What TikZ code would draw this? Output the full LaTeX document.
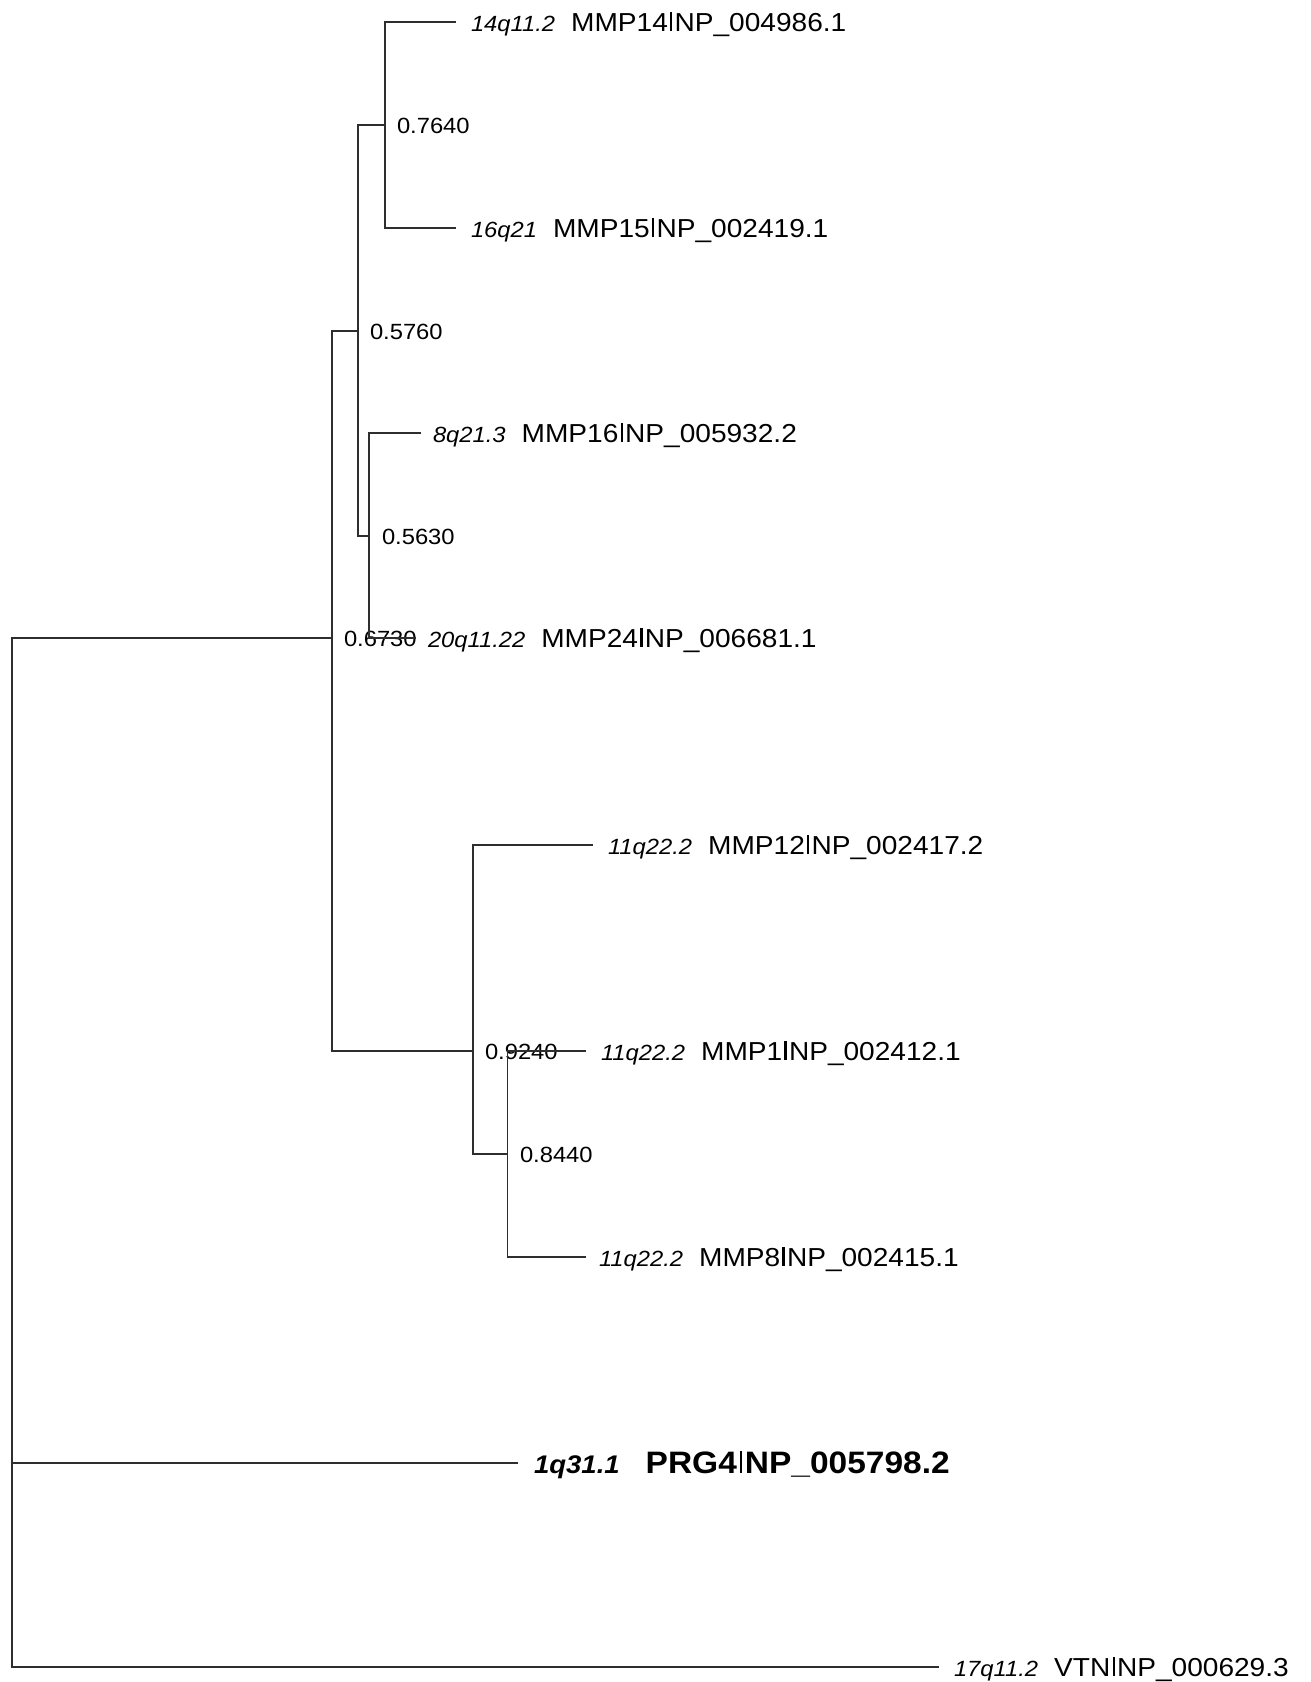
\documentclass[tikz,border=0pt]{standalone}
\usepackage{fontspec}
\setmainfont{Liberation Sans}[FakeStretch=1.08]
\newcommand\vbarglyph{\hspace{0.085em}\rule{0.09em}{0.716em}\hspace{0.085em}}
\newcommand\leaflab[2]{{\fontsize{22pt}{24pt}\selectfont\itshape #1}\hspace{16pt}{\fontsize{26pt}{30pt}\selectfont #2}}
\newcommand\boldlab[2]{{\fontsize{25.5pt}{30pt}\selectfont\bfseries\itshape #1}\hspace{26pt}{\fontsize{31pt}{34pt}\selectfont\bfseries #2}}
\tikzset{
  branch/.style={draw=black!82, line width=1.2pt, line cap=rect},
  lab/.style={anchor=base west, inner sep=0pt, outer sep=0pt},
  boot/.style={anchor=base west, inner sep=0pt, outer sep=0pt, font=\fontsize{22pt}{24pt}\selectfont}
}
\begin{document}
\begin{tikzpicture}[x=1pt,y=-1pt]
\useasboundingbox (0,0) rectangle (1310,1682);
\fill[white] (0,0) rectangle (1310,1682);
% internal nodes
\coordinate (root) at (12,1150);
\coordinate (n6730) at (332,638);
\coordinate (n5760) at (358,331);
\coordinate (n7640) at (385,125);
\coordinate (n5630) at (369,536);
\coordinate (n9240) at (473,1051);
\coordinate (n8440) at (507.5,1154);
% leaf tips
\coordinate (tMMP14) at (455,22);
\coordinate (tMMP15) at (455,228);
\coordinate (tMMP16) at (420,433);
\coordinate (tMMP24) at (415,638);
\coordinate (tMMP12) at (592,845);
\coordinate (tMMP1) at (585,1051);
\coordinate (tMMP8) at (585,1257);
\coordinate (tPRG4) at (517,1463);
\coordinate (tVTN) at (938,1667);
% leaf labels
\node[lab] (lMMP14) at (471,31) {\leaflab{14q11.2}{MMP14\vbarglyph NP\_004986.1}};
\node[lab] (lMMP15) at (471,237) {\leaflab{16q21}{MMP15\vbarglyph NP\_002419.1}};
\node[lab] (lMMP16) at (433,442) {\leaflab{8q21.3}{MMP16\vbarglyph NP\_005932.2}};
\node[lab] (lMMP24) at (428,647) {\leaflab{20q11.22}{MMP24\vbarglyph NP\_006681.1}};
\node[lab] (lMMP12) at (608,854) {\leaflab{11q22.2}{MMP12\vbarglyph NP\_002417.2}};
\node[lab] (lMMP1) at (601,1060) {\leaflab{11q22.2}{MMP1\vbarglyph NP\_002412.1}};
\node[lab] (lMMP8) at (599,1266) {\leaflab{11q22.2}{MMP8\vbarglyph NP\_002415.1}};
\node[lab] (lPRG4) at (534,1473) {\boldlab{1q31.1}{PRG4\vbarglyph NP\_005798.2}};
\node[lab] (lVTN) at (954,1676) {\leaflab{17q11.2}{VTN\vbarglyph NP\_000629.3}};
% bootstrap labels
\node[boot] (b7640) at (397,133) {0.7640};
\node[boot] (b5760) at (370,339) {0.5760};
\node[boot] (b5630) at (382,544) {0.5630};
\node[boot] (b6730) at (344,646) {0.6730};
\node[boot] (b9240) at (485,1059) {0.9240};
\node[boot] (b8440) at (520,1162) {0.8440};
% branches
\draw[branch] (root) |- (n6730);
\draw[branch] (root) |- (tPRG4);
\draw[branch] (root) |- (tVTN);
\draw[branch] (n6730) |- (n5760);
\draw[branch] (n6730) |- (n9240);
\draw[branch] (n5760) |- (n7640);
\draw[branch] (n5760) |- (n5630);
\draw[branch] (n7640) |- (tMMP14);
\draw[branch] (n7640) |- (tMMP15);
\draw[branch] (n5630) |- (tMMP16);
\draw[branch] (n5630) |- (tMMP24);
\draw[branch] (n9240) |- (tMMP12);
\draw[branch] (n9240) |- (n8440);
\draw[branch] (n8440) |- (tMMP1);
\draw[branch] (n8440) |- (tMMP8);
\end{tikzpicture}
\end{document}
